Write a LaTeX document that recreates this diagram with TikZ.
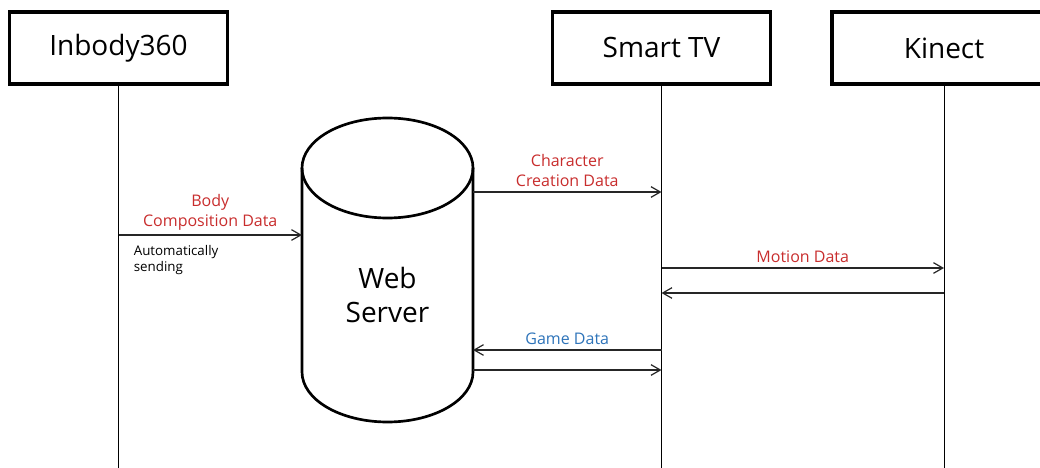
\documentclass[tikz,border=0pt]{standalone}
\usepackage{fontspec}
\setmainfont{Open Sans}
\usepackage{tikz}
\usetikzlibrary{arrows.meta}
\definecolor{msgred}{RGB}{200,45,45}
\definecolor{msgblue}{RGB}{45,115,185}

\begin{document}
\begin{tikzpicture}[x=0.75pt,y=0.75pt,>={Straight Barb[length=7pt,width=8pt]},
                    semithick]
  \tikzstyle{actor}=[draw=black,line width=2.4pt,minimum width=164pt,minimum height=54pt,
                     font=\fontsize{21}{24}\selectfont]
  \tikzstyle{life}=[line width=0.75pt]
  \tikzstyle{msg}=[->,line width=0.9pt,black!85]
  \tikzstyle{lbl}=[font=\fontsize{12}{15}\selectfont,align=center]

  \useasboundingbox (0,0) rectangle (1040,468);

  \node[actor] (IB)                    at (118.5,420) {Inbody360};
  \node[actor] (TV)                    at (661.5,420) {Smart TV};
  \node[actor,minimum width=168pt] (KN) at (944,420)   {Kinect};

  \coordinate (IBend) at (118.5,0);
  \coordinate (TVend) at (661.5,0);
  \coordinate (KNend) at (944,0);
  \draw[life] (IB.south) -- (IBend);
  \draw[life] (TV.south) -- (TVend);
  \draw[life] (KN.south) -- (KNend);

  % web server cylinder
  \node[outer sep=0pt,minimum width=128.25pt,minimum height=153pt] (WS) at (387.5,198) {};
  \draw[line width=2pt] (WS.north west) -- (WS.south west) arc (180:360:85.5 and 50) -- (WS.north east);
  \draw[line width=2pt] (WS.north) ellipse (85.5 and 50);
  \node[font=\fontsize{21}{26}\selectfont,align=center] (WStext) at (387.5,173) {Web\\Server};

  \draw[msg] (IB |- 0,233) -- (WS.west |- 0,233)
        node[lbl,midway,above,text=msgred] {Body\\Composition Data};
  \node[font=\fontsize{10}{11.5}\selectfont,align=left,anchor=north west] (auto) at (129,227)
        {Automatically\\sending};
  \draw[msg] (WS.east |- 0,276) -- (TV |- 0,276)
        node[lbl,midway,above,text=msgred] {Character\\Creation Data};
  \draw[msg] (TV |- 0,200) -- (KN |- 0,200)
        node[lbl,midway,above,text=msgred] {Motion Data};
  \draw[msg] (KN |- 0,175) -- (TV |- 0,175);
  \draw[msg] (TV |- 0,118) -- (WS.east |- 0,118)
        node[lbl,midway,above,text=msgblue] {Game Data};
  \draw[msg] (WS.east |- 0,98) -- (TV |- 0,98);
\end{tikzpicture}
\end{document}
